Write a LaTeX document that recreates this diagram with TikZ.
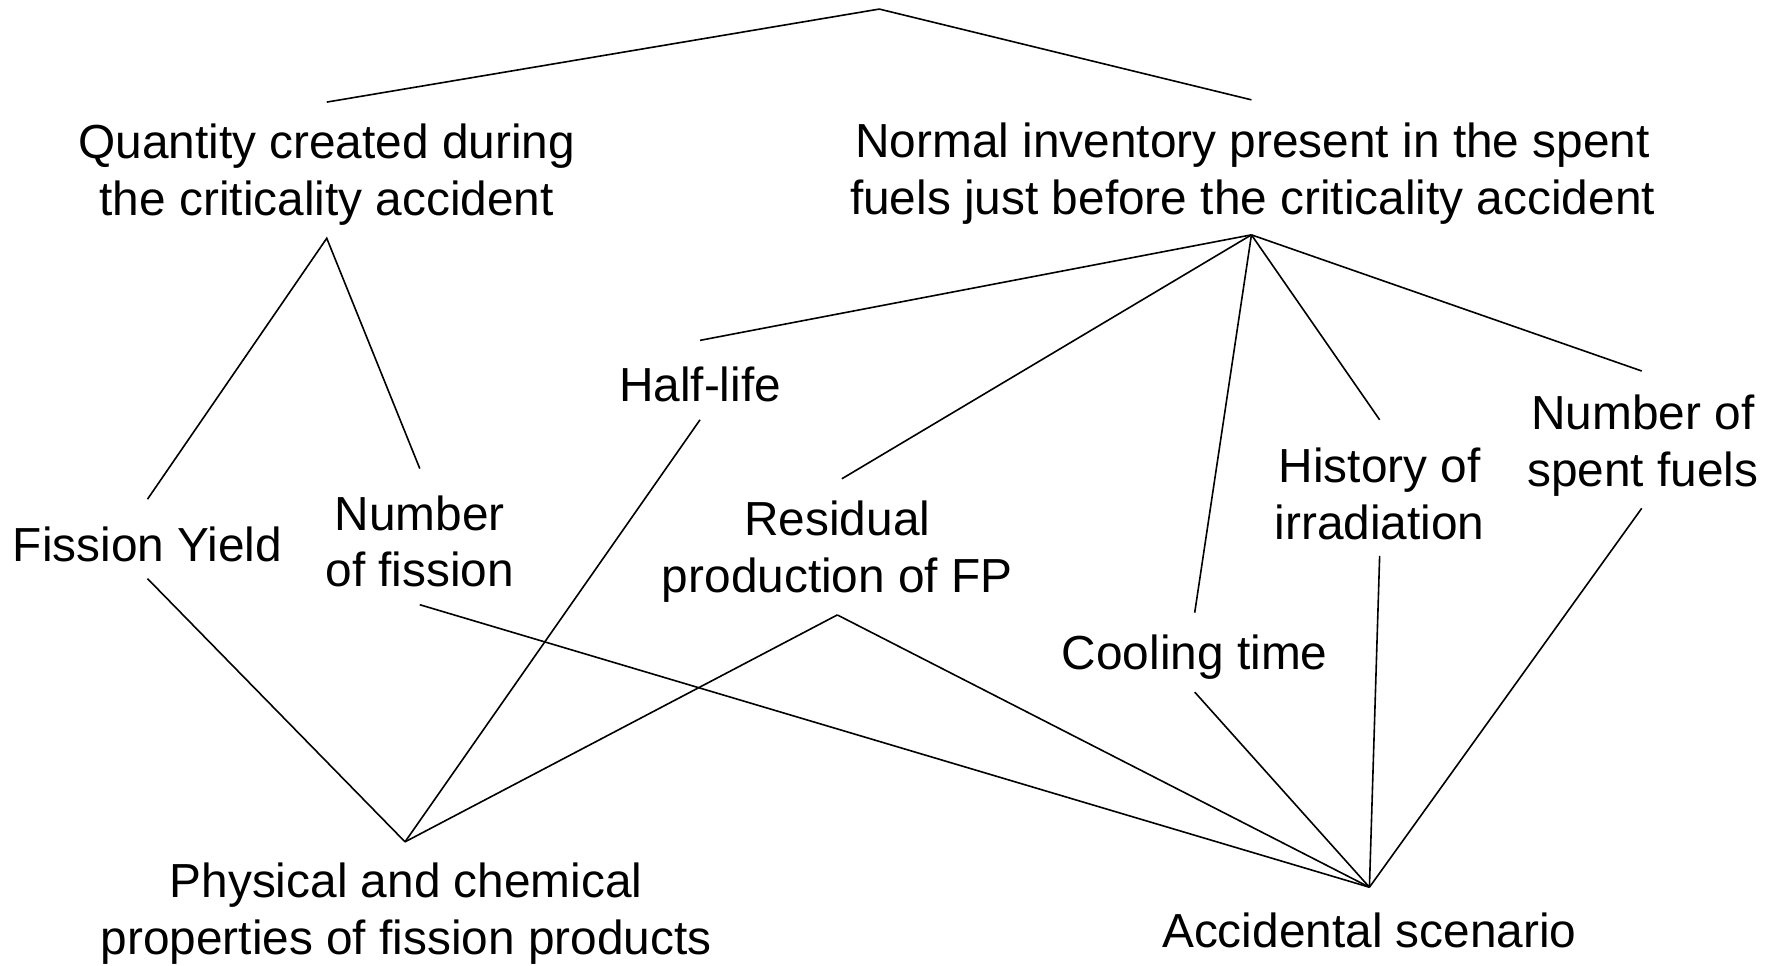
\documentclass[tikz,border=0pt]{standalone}
\usepackage{fontspec}
\setmainfont{Liberation Sans}
\begin{document}
\begin{tikzpicture}[x=0.5673pt,y=-0.5673pt,
  lbl/.style={inner sep=0pt,align=center,yshift=-1.2pt,font=\fontsize{23.9}{28.4}\selectfont},
  edge/.style={draw=black,line width=0.8pt}]
\useasboundingbox (0,0) rectangle (1568,851);
% text nodes
\node[lbl] (q) at (288,152) {Quantity created during\\the criticality accident};
\node[lbl] (ni) at (1104,151) {Normal inventory present in the spent\\fuels just before the criticality accident};
\node[lbl] (fy) at (130,478) {Fission Yield};
\node[lbl] (nf) at (370,475) {Number\\of fission};
\node[lbl] (hl) at (617,337) {Half-life};
\node[lbl] (rp) at (738,484) {Residual\\production of FP};
\node[lbl] (ct) at (1053,577) {Cooling time};
\node[lbl] (hi) at (1216,433) {History of\\irradiation};
\node[lbl] (ns) at (1448,391) {Number of\\spent fuels};
\node[lbl] (pc) at (358,803) {Physical and chemical\\properties of fission products};
\node[lbl] (as) at (1207,818) {Accidental scenario};
% connector end points
\coordinate (top) at (775,8);
\coordinate (qt) at (288,90);
\coordinate (qb) at (288,210);
\coordinate (nit) at (1103,88);
\coordinate (nib) at (1103,207);
\coordinate (fyt) at (130,440);
\coordinate (fyb) at (130,510);
\coordinate (nft) at (370,413);
\coordinate (nfb) at (370,533);
\coordinate (hlt) at (617,300);
\coordinate (hlb) at (617,370);
\coordinate (rpt) at (742,422);
\coordinate (rpb) at (738,542);
\coordinate (ctt) at (1053,540);
\coordinate (ctb) at (1053,610);
\coordinate (hit) at (1216,370);
\coordinate (hib) at (1216,490);
\coordinate (nst) at (1447,327);
\coordinate (nsb) at (1447,448);
\coordinate (pct) at (357,742);
\coordinate (ast) at (1207,782);
% connectors
\draw[edge] (qt) -- (top) -- (nit);
\draw[edge] (fyt) -- (qb) -- (nft);
\draw[edge] (nib) -- (hlt);
\draw[edge] (nib) -- (rpt);
\draw[edge] (nib) -- (ctt);
\draw[edge] (nib) -- (hit);
\draw[edge] (nib) -- (nst);
\draw[edge] (fyb) -- (pct);
\draw[edge] (hlb) -- (pct);
\draw[edge] (rpb) -- (pct);
\draw[edge] (nfb) -- (ast);
\draw[edge] (rpb) -- (ast);
\draw[edge] (ctb) -- (ast);
\draw[edge] (hib) -- (ast);
\draw[edge] (nsb) -- (ast);
\end{tikzpicture}
\end{document}
